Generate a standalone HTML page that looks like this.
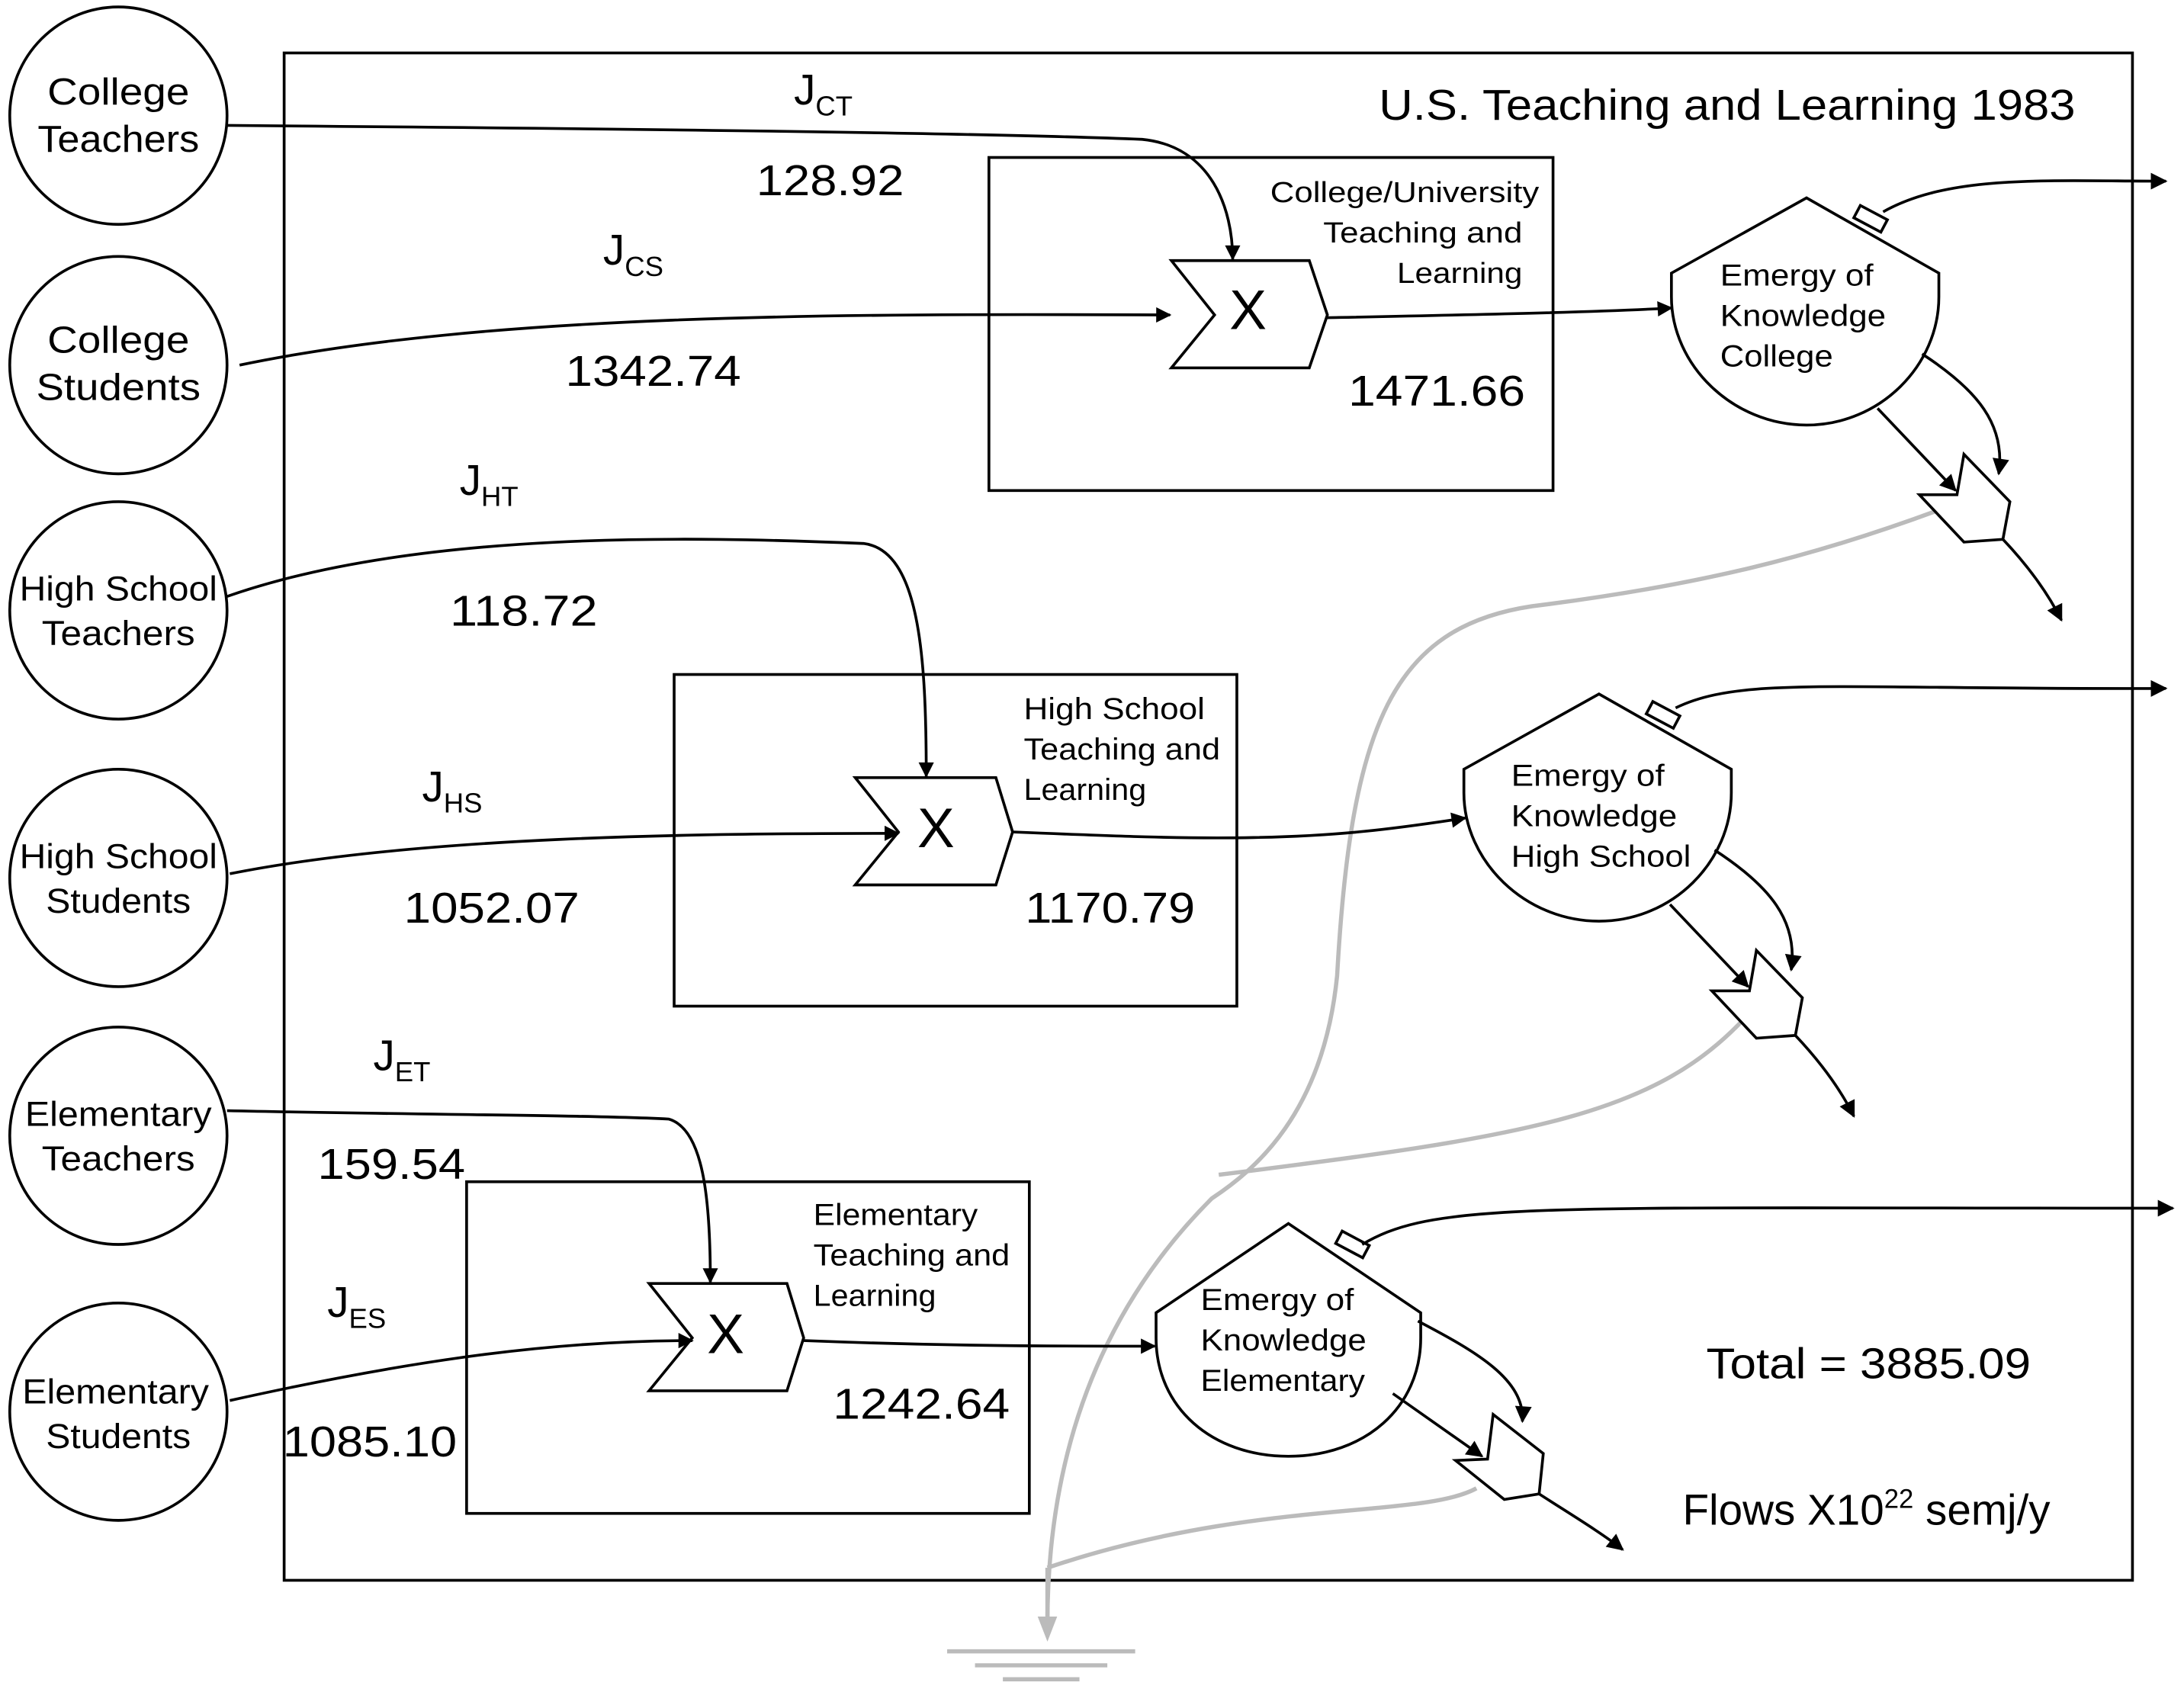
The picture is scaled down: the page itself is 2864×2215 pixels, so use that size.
<!DOCTYPE html>
<html><head><meta charset="utf-8"><style>
html,body{margin:0;padding:0;background:#fff;}
svg{display:block;}
text{font-family:"Liberation Sans",Arial,sans-serif;fill:#000;}
</style></head><body>
<svg width="2864" height="2215" viewBox="0 0 1568 1212" preserveAspectRatio="none" xmlns="http://www.w3.org/2000/svg">
<defs>
<marker id="a" viewBox="0 0 10 10" refX="9" refY="5" markerWidth="13" markerHeight="11" markerUnits="userSpaceOnUse" orient="auto">
<path d="M0,0 L10,5 L0,10 z" fill="#000"/></marker>
<marker id="b" viewBox="0 0 10 10" refX="9" refY="5" markerWidth="14" markerHeight="12" markerUnits="userSpaceOnUse" orient="auto">
<path d="M0,0 L10,5 L0,10 z" fill="#000"/></marker>
</defs>
<g fill="none" stroke="#000" stroke-width="2">
<rect x="204" y="38" width="1327" height="1096"/>
<rect x="710" y="113" width="405" height="239"/>
<rect x="484" y="484" width="404" height="238"/>
<rect x="335" y="848" width="404" height="238"/>
<circle cx="85" cy="83" r="78"/>
<circle cx="85" cy="262" r="78"/>
<circle cx="85" cy="438" r="78"/>
<circle cx="85" cy="630" r="78"/>
<circle cx="85" cy="815" r="78"/>
<circle cx="85" cy="1013" r="78"/>
<polygon points="841,187 940,187 953,226 940,264 841,264 872,226" fill="#fff"/>
<polygon points="614,558 715,558 727,597 715,635 614,635 645,597" fill="#fff"/>
<polygon points="466,921 565,921 577,960 565,998 466,998 497,960" fill="#fff"/>
</g>
<g fill="none" stroke="#bbb" stroke-width="3">
<path d="M1392,366 C1300,400 1220,420 1100,435 C1000,450 970,520 960,700 C950,800 900,840 870,860 C780,950 752,1060 752,1165"/>
<path d="M1255,728 C1190,800 1100,815 875,843"/>
<path d="M1060,1068 C1020,1090 900,1075 752,1125"/>
<path d="M752,1125 L752,1170"/>
</g>
<g stroke="#bbb" stroke-width="3">
<line x1="680" y1="1185" x2="815" y2="1185"/>
<line x1="700" y1="1195" x2="795" y2="1195"/>
<line x1="720" y1="1205" x2="775" y2="1205"/>
</g>
<polygon points="745,1160 759,1160 752,1178" fill="#bbb"/>
<g fill="none" stroke="#000" stroke-width="2" marker-end="url(#a)">
<path d="M163,90 C400,92 700,95 820,100 C870,105 885,150 885,186"/>
<path d="M172,262 C350,225 600,225 840,226"/>
<path d="M953,228 C1050,226 1150,224 1200,221"/>
<path d="M163,428 C300,380 500,385 620,390 C660,395 665,470 665,557"/>
<path d="M165,627 C300,600 500,598 645,598"/>
<path d="M727,597 C800,600 850,602 900,601 C960,600 1000,595 1052,587"/>
<path d="M163,797 C300,800 420,800 480,803 C505,810 510,860 510,920"/>
<path d="M165,1005 C300,975 400,962 497,962"/>
<path d="M577,962 C680,966 760,966 829,966"/>
</g>
<g id="tank" fill="none" stroke="#000" stroke-width="2">
<path d="M1200,196 L1297,142 L1392,196 L1392,213 C1392,262 1350,305 1297,305 C1244,305 1200,262 1200,213 Z" fill="#fff"/>
<rect x="1332" y="152" width="22" height="10" transform="rotate(28 1343 157)" fill="#fff"/>
<path d="M1380,254 C1420,280 1440,305 1435,340" marker-end="url(#b)"/>
<path d="M1348,293 L1404,352" marker-end="url(#b)"/>
<polygon points="1378,355 1405,355 1410,326 1443,360 1438,387 1410,389" fill="#fff"/>
<path d="M1438,387 C1455,405 1470,425 1480,445" marker-end="url(#b)"/>
</g>
<use href="#tank" transform="translate(-149,356)"/>
<g fill="none" stroke="#000" stroke-width="2" marker-end="url(#b)">
<path d="M1352,152 C1400,125 1470,130 1555,130"/>
<path d="M1203,508 C1250,485 1320,495 1555,494"/>
</g>
<g fill="none" stroke="#000" stroke-width="2">
<path d="M830,942 L925,878 L1020,942 L1020,960 C1020,1010 980,1045 925,1045 C870,1045 830,1010 830,960 Z" fill="#fff"/>
<rect x="960" y="888" width="22" height="10" transform="rotate(28 971 893)" fill="#fff"/>
<path d="M978,893 C1030,862 1100,867 1560,867" marker-end="url(#b)"/>
<path d="M1018,948 C1060,970 1095,990 1093,1020" marker-end="url(#b)"/>
<path d="M1000,1000 L1064,1045" marker-end="url(#b)"/>
<polygon points="1045,1048 1068,1047 1072,1015 1108,1043 1105,1072 1080,1076" fill="#fff"/>
<path d="M1105,1072 C1125,1085 1150,1100 1165,1112" marker-end="url(#b)"/>
</g>
<g font-size="27" text-anchor="middle">
<text x="85" y="75" textLength="102" lengthAdjust="spacingAndGlyphs">College</text><text x="85" y="109" textLength="116" lengthAdjust="spacingAndGlyphs">Teachers</text>
<text x="85" y="253" textLength="102" lengthAdjust="spacingAndGlyphs">College</text><text x="85" y="287" textLength="118" lengthAdjust="spacingAndGlyphs">Students</text>
<text x="85" y="431" font-size="25" textLength="142" lengthAdjust="spacingAndGlyphs">High School</text><text x="85" y="463" font-size="25" textLength="110" lengthAdjust="spacingAndGlyphs">Teachers</text>
<text x="85" y="623" font-size="25" textLength="142" lengthAdjust="spacingAndGlyphs">High School</text><text x="85" y="655" font-size="25" textLength="104" lengthAdjust="spacingAndGlyphs">Students</text>
<text x="85" y="808" font-size="25" textLength="134" lengthAdjust="spacingAndGlyphs">Elementary</text><text x="85" y="840" font-size="25" textLength="110" lengthAdjust="spacingAndGlyphs">Teachers</text>
<text x="83" y="1007" font-size="25" textLength="134" lengthAdjust="spacingAndGlyphs">Elementary</text><text x="85" y="1039" font-size="25" textLength="104" lengthAdjust="spacingAndGlyphs">Students</text>
</g>
<text x="990" y="86" font-size="31" textLength="500" lengthAdjust="spacingAndGlyphs">U.S. Teaching and Learning 1983</text>
<g font-size="21" text-anchor="end">
<text x="1105" y="145" textLength="193" lengthAdjust="spacingAndGlyphs">College/University</text><text x="1093" y="174" textLength="143" lengthAdjust="spacingAndGlyphs">Teaching and</text><text x="1093" y="203" textLength="90" lengthAdjust="spacingAndGlyphs">Learning</text>
</g>
<g font-size="22">
<text x="735" y="516" textLength="130" lengthAdjust="spacingAndGlyphs">High School</text><text x="735" y="545" textLength="141" lengthAdjust="spacingAndGlyphs">Teaching and</text><text x="735" y="574" textLength="88" lengthAdjust="spacingAndGlyphs">Learning</text>
<text x="584" y="879" textLength="118" lengthAdjust="spacingAndGlyphs">Elementary</text><text x="584" y="908" textLength="141" lengthAdjust="spacingAndGlyphs">Teaching and</text><text x="584" y="937" textLength="88" lengthAdjust="spacingAndGlyphs">Learning</text>
<text x="1235" y="205" textLength="110" lengthAdjust="spacingAndGlyphs">Emergy of</text><text x="1235" y="234" textLength="119" lengthAdjust="spacingAndGlyphs">Knowledge</text><text x="1235" y="263" textLength="81" lengthAdjust="spacingAndGlyphs">College</text>
<text x="1085" y="564" textLength="110" lengthAdjust="spacingAndGlyphs">Emergy of</text><text x="1085" y="593" textLength="119" lengthAdjust="spacingAndGlyphs">Knowledge</text><text x="1085" y="622" textLength="129" lengthAdjust="spacingAndGlyphs">High School</text>
<text x="862" y="940" textLength="110" lengthAdjust="spacingAndGlyphs">Emergy of</text><text x="862" y="969" textLength="119" lengthAdjust="spacingAndGlyphs">Knowledge</text><text x="862" y="998" textLength="118" lengthAdjust="spacingAndGlyphs">Elementary</text>
</g>
<g font-size="40" text-anchor="middle">
<text x="896" y="236">X</text><text x="672" y="608">X</text><text x="521" y="971">X</text>
</g>
<g font-size="31">
<text x="570" y="75">J<tspan font-size="20" dy="8">CT</tspan></text>
<text x="543" y="140" textLength="106" lengthAdjust="spacingAndGlyphs">128.92</text>
<text x="433" y="190">J<tspan font-size="20" dy="8">CS</tspan></text>
<text x="406" y="277" textLength="126" lengthAdjust="spacingAndGlyphs">1342.74</text>
<text x="330" y="355">J<tspan font-size="20" dy="8">HT</tspan></text>
<text x="323" y="449" textLength="106" lengthAdjust="spacingAndGlyphs">118.72</text>
<text x="303" y="575">J<tspan font-size="20" dy="8">HS</tspan></text>
<text x="290" y="662" textLength="126" lengthAdjust="spacingAndGlyphs">1052.07</text>
<text x="268" y="768">J<tspan font-size="20" dy="8">ET</tspan></text>
<text x="228" y="846" textLength="106" lengthAdjust="spacingAndGlyphs">159.54</text>
<text x="235" y="945">J<tspan font-size="20" dy="8">ES</tspan></text>
<text x="203" y="1045" textLength="125" lengthAdjust="spacingAndGlyphs">1085.10</text>
<text x="968" y="291" textLength="127" lengthAdjust="spacingAndGlyphs">1471.66</text>
<text x="736" y="662" textLength="122" lengthAdjust="spacingAndGlyphs">1170.79</text>
<text x="598" y="1018" textLength="127" lengthAdjust="spacingAndGlyphs">1242.64</text>
<text x="1225" y="989" textLength="233" lengthAdjust="spacingAndGlyphs">Total = 3885.09</text>
<text x="1208" y="1094">Flows X10<tspan font-size="19" dy="-12">22</tspan><tspan dy="12"> semj/y</tspan></text>
</g>
</svg>
</body></html>
